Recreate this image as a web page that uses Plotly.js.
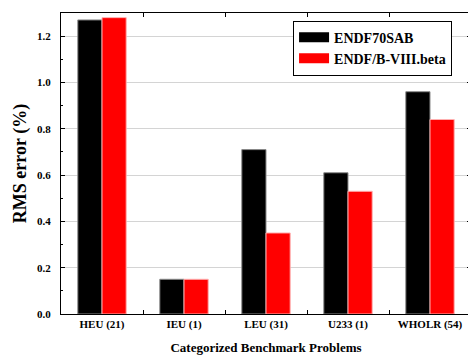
<!DOCTYPE html>
<html>
<head>
<meta charset="utf-8">
<script src="https://cdn.plot.ly/plotly-3.0.1.min.js"></script>
<style>html,body{margin:0;padding:0;overflow:hidden;background:#fff;}</style>
</head>
<body>
<div id="chart"></div>
<script>
const categories = ["HEU (21)", "IEU (1)", "LEU (31)", "U233 (1)", "WHOLR (54)"];
const endf70sab = [1.27, 0.15, 0.71, 0.61, 0.96];
const endfb8beta = [1.28, 0.15, 0.35, 0.53, 0.84];
const seriesNames = ["ENDF70SAB", "ENDF/B-VIII.beta"];
const yTicks = [0.0, 0.2, 0.4, 0.6, 0.8, 1.0, 1.2];

const font = "Liberation Serif, Times New Roman, serif";

const traces = [
  {type: "bar", x: categories, y: endf70sab, name: seriesNames[0], showlegend: false,
   marker: {color: "#000000", line: {color: "#8a8a8a", width: 1}}},
  {type: "bar", x: categories, y: endfb8beta, name: seriesNames[1], showlegend: false,
   marker: {color: "#ff0000", line: {color: "#ffb0b0", width: 1}}},
  {type: "scatter", mode: "lines", x: [null], y: [null], name: seriesNames[0],
   line: {color: "#000000", width: 13}},
  {type: "scatter", mode: "lines", x: [null], y: [null], name: seriesNames[1],
   line: {color: "#ff0000", width: 13}}
];

const layout = {
  width: 480, height: 356,
  margin: {l: 61, r: 9, t: 13, b: 42},
  paper_bgcolor: "#fff", plot_bgcolor: "#fff",
  font: {family: font, color: "#000", size: 11},
  bargap: 0.41, bargroupgap: 0,
  barmode: "group",
  showlegend: true,
  legend: {x: 0.566, y: 0.975, xanchor: "left", yanchor: "top",
           bgcolor: "#fff", bordercolor: "#000", borderwidth: 1,
           font: {family: font, size: 14, color: "#000", weight: "bold"},
           itemwidth: 30, tracegroupgap: 0},
  xaxis: {
    type: "category", range: [-0.5, 4.5],
    showline: true, linecolor: "#000", linewidth: 1, mirror: "ticks",
    ticks: "inside", ticklen: 4, tickcolor: "#000", tickson: "boundaries",
    showgrid: false, zeroline: false,
    tickfont: {family: font, size: 11, weight: "bold"},
    title: {text: "Categorized Benchmark Problems", standoff: 12,
            font: {family: font, size: 13, weight: "bold"}}
  },
  yaxis: {
    range: [0, 1.3], tickvals: yTicks, tickformat: ".1f",
    showline: true, linecolor: "#000", linewidth: 1, mirror: "ticks",
    ticks: "inside", ticklen: 4, tickcolor: "#000",
    minor: {dtick: 0.1, tick0: 0, ticks: "inside", ticklen: 2, tickcolor: "#000", showgrid: false},
    showgrid: true, gridcolor: "#d4d4d4", gridwidth: 1, zeroline: false,
    ticklabelstandoff: 7,
    tickfont: {family: font, size: 11, weight: "bold"},
    title: {text: "RMS error (%)", standoff: 5,
            font: {family: font, size: 18, weight: "bold"}}
  }
};

Plotly.newPlot("chart", traces, layout, {displayModeBar: false, staticPlot: true});
</script>
</body>
</html>
